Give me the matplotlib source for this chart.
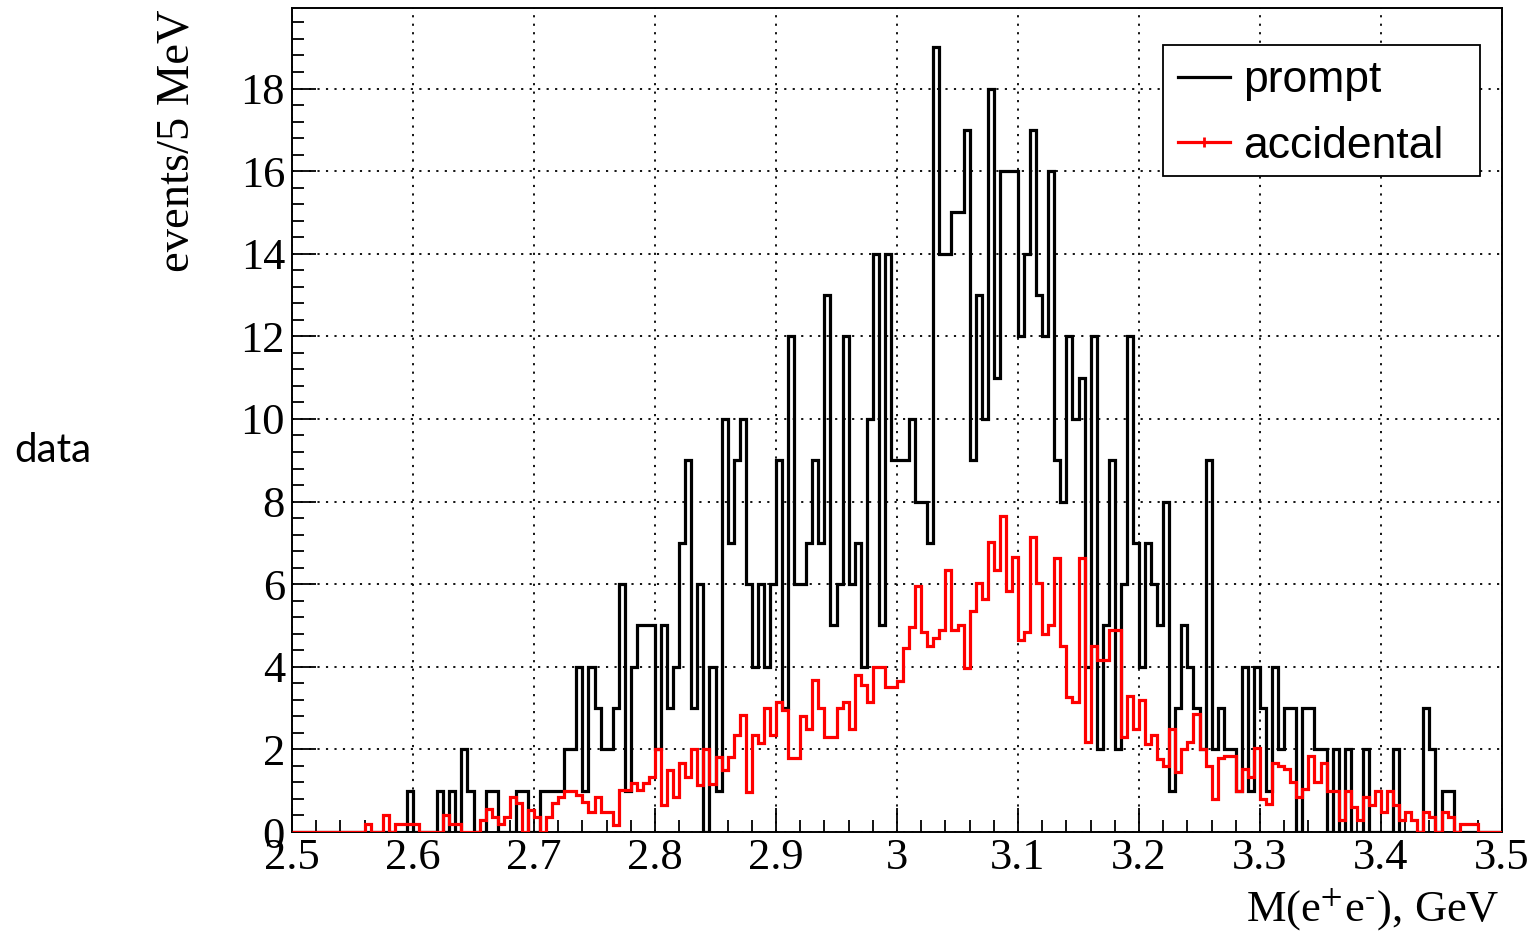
import numpy as np
import matplotlib
matplotlib.use("Agg")
import matplotlib.pyplot as plt
from matplotlib.lines import Line2D
from matplotlib.patches import Rectangle
from matplotlib.ticker import MultipleLocator

# M(e+e-) histogram: 200 bins of 5 MeV between 2.5 and 3.5 GeV
m_lo, m_hi, n_bins = 2.5, 3.5, 200

# events per bin, prompt pairs
prompt = [
    0, 0, 0, 0, 0, 0, 0, 0, 0, 0,
    0, 0, 0, 0, 0, 0, 0, 0, 0, 1,
    0, 0, 0, 0, 1, 0, 1, 0, 2, 1,
    0, 0, 1, 1, 0, 0, 0, 1, 1, 0,
    0, 1, 1, 1, 1, 2, 2, 4, 1, 4,
    3, 2, 2, 3, 6, 1, 4, 5, 5, 5,
    2, 5, 3, 4, 7, 9, 3, 6, 0, 4,
    1, 10, 7, 9, 10, 6, 4, 6, 4, 6,
    9, 3, 12, 6, 6, 7, 9, 7, 13, 5,
    6, 12, 6, 7, 4, 10, 14, 5, 14, 9,
    9, 9, 10, 8, 8, 7, 19, 14, 14, 15,
    15, 17, 9, 13, 10, 18, 11, 16, 16, 16,
    12, 14, 17, 13, 12, 16, 9, 8, 12, 10,
    11, 4, 12, 2, 5, 9, 2, 6, 12, 7,
    4, 7, 6, 5, 8, 1, 3, 5, 4, 3,
    2, 9, 2, 3, 2, 2, 1, 4, 1, 4,
    3, 1, 4, 2, 3, 3, 0, 3, 3, 2,
    2, 0, 2, 0, 2, 0, 0, 2, 0, 0,
    0, 0, 2, 0, 0, 0, 0, 3, 2, 0,
    1, 1, 0, 0, 0, 0, 0, 0, 0, 0,
]

# accidental pairs (normalised, so not integer)
accidental = [
    0, 0, 0, 0, 0, 0, 0, 0, 0, 0,
    0, 0, 0.2, 0, 0, 0.4, 0, 0.2, 0.2, 0.2,
    0.2, 0, 0, 0, 0, 0.4, 0.2, 0.2, 0, 0,
    0, 0.3, 0.55, 0.37, 0.2, 0.37, 0.85, 0.7, 0, 0.53,
    0.37, 0, 0.37, 0.7, 0.85, 1.0, 1.0, 0.9, 0.73, 0.49,
    0.85, 0.49, 0.49, 0.17, 1.02, 1.02, 1.18, 1.02, 1.18, 1.34,
    2.0, 0.65, 1.5, 0.85, 1.66, 1.34, 2.0, 1.14, 2.0, 1.17,
    1.82, 1.5, 1.82, 2.35, 2.83, 0.98, 2.35, 2.15, 3.0, 2.35,
    3.15, 2.96, 1.79, 1.79, 2.82, 2.49, 3.67, 3.0, 2.3, 2.3,
    3.0, 3.15, 2.49, 3.8, 3.57, 3.15, 4.0, 4.0, 3.5, 3.5,
    3.65, 4.46, 4.96, 5.96, 4.84, 4.5, 4.7, 4.9, 6.34, 4.9,
    5.0, 3.96, 5.34, 6.03, 5.65, 7.03, 6.34, 7.65, 5.84, 6.65,
    4.65, 4.84, 7.15, 6.03, 4.8, 5.0, 6.63, 4.51, 3.26, 3.14,
    6.63, 2.17, 4.51, 4.17, 4.17, 4.9, 4.9, 2.3, 3.3, 2.5,
    3.2, 2.14, 2.34, 1.77, 1.6, 2.5, 1.45, 2.0, 2.18, 2.86,
    2.0, 1.6, 0.8, 1.8, 1.84, 1.84, 1.0, 1.52, 1.32, 2.04,
    0.8, 0.68, 1.68, 1.6, 1.52, 1.2, 0.84, 1.04, 1.84, 1.2,
    1.68, 1.0, 1.0, 0.28, 1.0, 0.6, 0.28, 0.85, 0.65, 1.0,
    0.48, 1.0, 0.65, 0.28, 0.48, 0.28, 0, 0.48, 0.36, 0,
    0.48, 0.36, 0, 0.2, 0.2, 0.2, 0, 0, 0, 0,
]

x_ticks = [2.5, 2.6, 2.7, 2.8, 2.9, 3.0, 3.1, 3.2, 3.3, 3.4, 3.5]
x_tick_labels = ["2.5", "2.6", "2.7", "2.8", "2.9", "3", "3.1", "3.2", "3.3", "3.4", "3.5"]
y_ticks = [0, 2, 4, 6, 8, 10, 12, 14, 16, 18]

edges = np.linspace(m_lo, m_hi, n_bins + 1)

plt.rcParams["font.family"] = ["Liberation Serif", "DejaVu Serif"]
plt.rcParams["mathtext.fontset"] = "stix"

fig = plt.figure(figsize=(15.36, 9.32), dpi=100)
ax = fig.add_axes([292 / 1536, 100 / 932, 1210 / 1536, 824 / 932])

ax.stairs(prompt, edges, color="black", linewidth=2.3, zorder=3)
ax.stairs(accidental, edges, color="#ff0000", linewidth=2.3, zorder=4)

ax.set_xlim(m_lo, m_hi)
ax.set_ylim(0, 1.05 * max(prompt))

ax.set_xticks(x_ticks)
ax.set_xticklabels(x_tick_labels)
ax.set_yticks(y_ticks)
ax.xaxis.set_minor_locator(MultipleLocator(0.02))
ax.yaxis.set_minor_locator(MultipleLocator(0.4))
ax.tick_params(axis="both", which="both", direction="in", labelsize=32, width=1.3)
ax.tick_params(axis="x", which="major", length=17, pad=4)
ax.tick_params(axis="x", which="minor", length=8.5)
ax.tick_params(axis="y", which="major", length=17, pad=5)
ax.tick_params(axis="y", which="minor", length=8.5)

ax.grid(True, which="major", color="black", linestyle=(0, (1.2, 3.5)), linewidth=1.3)
for sp in ax.spines.values():
    sp.set_linewidth(1.4)

# legend: plain box with a line sample per histogram
handles = [
    Line2D([], [], color="black", linewidth=2.3),
    Line2D([], [], color="#ff0000", linewidth=2.3, marker="|", markersize=7,
           markeredgewidth=2),
]
leg = ax.legend(handles, ["prompt", "accidental"], loc="upper left",
                bbox_to_anchor=((1163 - 292) / 1210, (832 - 45) / 824),
                prop={"family": ["Liberation Sans"], "size": 32},
                frameon=False, handlelength=1.17, handletextpad=0.3,
                labelspacing=0.56, borderpad=0.34, borderaxespad=0)
ax.add_patch(Rectangle(((1163 - 292) / 1210, (832 - 176) / 824), 317 / 1210, 131 / 824,
                       transform=ax.transAxes, facecolor="white", edgecolor="black",
                       linewidth=1.3, zorder=5))
leg.set_zorder(6)

fig.text(177 / 1536, 1 - 10 / 932, "events/5 MeV", rotation=90,
         ha="center", va="top", fontsize=33.5)
fig.text(1500 / 1536, 1 - 910 / 932, r"M(e$^{+}$e$^{\text{-}}$), GeV",
         ha="right", va="center", fontsize=32)
fig.text(53 / 1536, 1 - 450 / 932, "data", ha="center", va="center",
         fontsize=29, family=["Lato", "DejaVu Sans"])

fig.savefig("out.png", dpi=100)
